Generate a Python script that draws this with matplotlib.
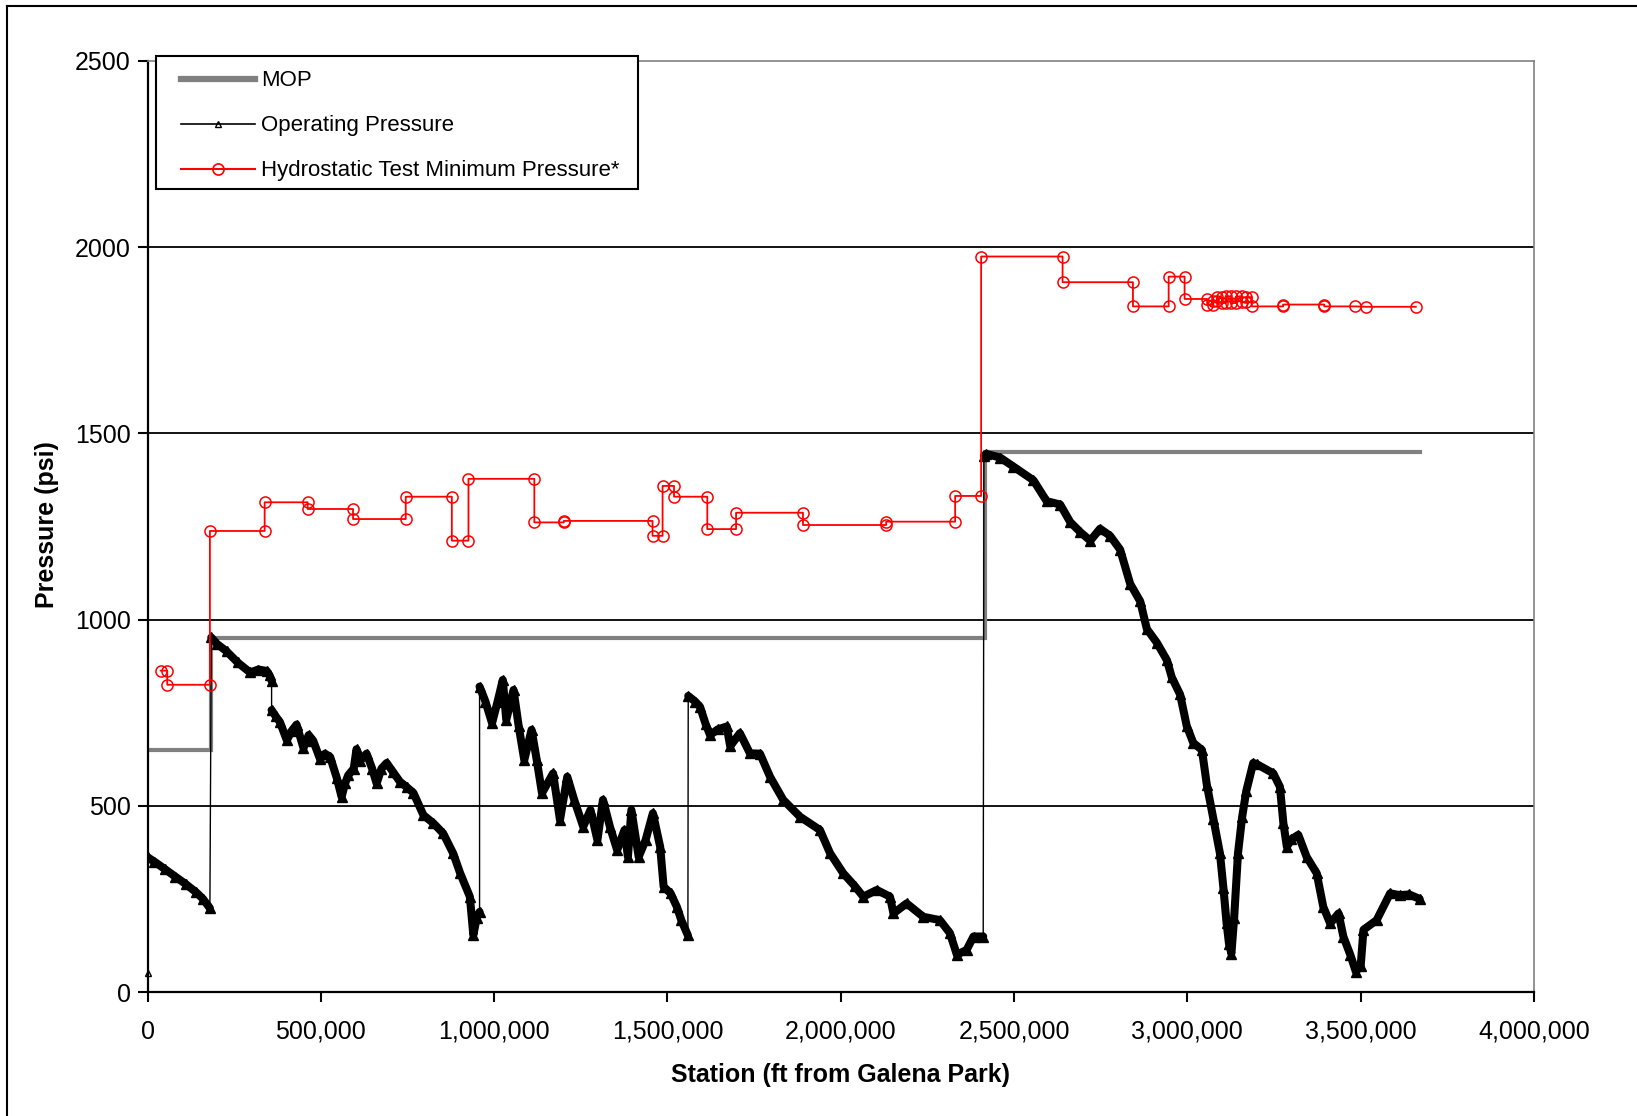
import matplotlib
matplotlib.use("Agg")
import matplotlib.pyplot as plt
from matplotlib.lines import Line2D
from matplotlib.patches import Rectangle
from matplotlib.ticker import FuncFormatter

plt.rcParams['font.family'] = ['Liberation Sans', 'DejaVu Sans']

# ---------------- data ----------------
x_ticks = [0, 500000, 1000000, 1500000, 2000000, 2500000, 3000000, 3500000, 4000000]
y_ticks = [0, 500, 1000, 1500, 2000, 2500]

mop_x = [0, 183000, 183000, 2416000, 2416000, 3670000]
mop_y = [650, 650, 950, 950, 1450, 1450]

op_start_x = [0]
op_start_y = [50]

op_a_x = [0, 20000, 50000, 80000, 110000, 140000, 160000, 180000]
op_a_y = [362, 350, 330, 310, 290, 268, 250, 225]

op_b_x = [184000, 200000, 228000, 260000, 296000, 320000, 344000, 352000, 358000]
op_b_y = [952, 935, 915, 885, 858, 866, 862, 850, 836]

op_c_x = [358000, 370000, 382000, 402000, 415000, 430000, 450000, 465000, 478000,
          498000, 512000, 527000, 546000, 560000, 570000, 579000, 595000, 603000,
          613000, 632000, 648000, 661000, 675000, 690000, 709000, 728000, 748000,
          767000, 796000, 825000, 853000, 882000, 902000, 930000, 940000, 950000, 958000]
op_c_y = [757, 740, 725, 676, 700, 718, 655, 690, 675,
          625, 640, 631, 575, 524, 560, 582, 600, 652,
          620, 640, 600, 560, 600, 615, 590, 565, 550,
          535, 475, 453, 426, 372, 319, 256, 153, 200, 215]

op_d_x = [958000, 975000, 994000, 1010000, 1025000, 1035000, 1056000, 1071000, 1087000,
          1108000, 1123000, 1138000, 1170000, 1190000, 1211000, 1231000, 1257000, 1278000,
          1298000, 1314000, 1334000, 1355000, 1376000, 1386000, 1396000, 1417000, 1437000,
          1458000, 1479000, 1489000, 1509000, 1527000, 1540000, 1559000]
op_d_y = [820, 780, 722, 780, 838, 731, 811, 713, 623,
          704, 623, 534, 587, 462, 578, 516, 444, 489,
          408, 516, 444, 381, 435, 363, 489, 363, 408,
          480, 390, 283, 265, 229, 193, 152]

op_e_x = [1560000, 1580000, 1594000, 1610000, 1623000, 1645000, 1671000, 1681000, 1709000,
          1738000, 1767000, 1796000, 1834000, 1882000, 1940000, 1969000, 2007000, 2040000,
          2065000, 2104000, 2142000, 2152000, 2190000, 2238000, 2286000, 2315000, 2335000,
          2363000, 2383000, 2411000]
op_e_y = [795, 780, 766, 720, 690, 705, 713, 660, 695,
          641, 640, 578, 516, 471, 435, 373, 319, 285,
          256, 274, 256, 211, 238, 202, 193, 158, 100,
          113, 149, 149]

op_f_x = [2413000, 2420000, 2460000, 2498000, 2556000, 2594000, 2633000, 2662000, 2691000,
          2720000, 2748000, 2777000, 2806000, 2835000, 2864000, 2883000, 2912000, 2941000,
          2955000, 2979000, 2998000, 3017000, 3042000, 3056000, 3075000, 3094000, 3104000,
          3113000, 3120000, 3127000, 3135000, 3146000, 3158000, 3170000, 3190000, 3200000,
          3248000, 3267000, 3277000, 3287000, 3300000, 3320000, 3344000, 3373000, 3392000,
          3412000, 3436000, 3450000, 3470000, 3486000, 3500000, 3508000, 3546000, 3585000,
          3613000, 3640000, 3670000]
op_f_y = [1440, 1445, 1435, 1411, 1374, 1318, 1309, 1262, 1235,
          1212, 1244, 1225, 1188, 1096, 1049, 975, 938, 891,
          845, 799, 715, 669, 650, 557, 465, 372, 279,
          186, 130, 103, 200, 372, 470, 540, 615, 612,
          587, 551, 453, 390, 410, 422, 363, 319, 229,
          184, 211, 149, 100, 55, 70, 167, 193, 265,
          260, 262, 250]

hyd_x = [38000, 57000, 57000, 180000, 180000, 338000, 338000, 462000, 462000, 593000,
         593000, 745000, 745000, 878000, 878000, 926000, 926000, 1116000, 1116000, 1201000,
         1201000, 1457000, 1457000, 1486000, 1486000, 1519000, 1519000, 1615000, 1615000, 1698000,
         1698000, 1891000, 1891000, 2131000, 2131000, 2330000, 2330000, 2405000, 2405000, 2640000,
         2640000, 2843000, 2843000, 2946000, 2946000, 2992000, 2992000, 3057000, 3057000, 3075000,
         3075000, 3085000, 3085000, 3100000, 3100000, 3110000, 3110000, 3125000, 3125000, 3140000,
         3140000, 3158000, 3158000, 3170000, 3170000, 3186000, 3186000, 3276000, 3276000, 3395000,
         3395000, 3485000, 3515000, 3659000]
hyd_y = [863, 863, 825, 825, 1238, 1238, 1315, 1315, 1297, 1297,
         1270, 1270, 1330, 1330, 1212, 1212, 1378, 1378, 1261, 1261,
         1265, 1265, 1225, 1225, 1359, 1359, 1330, 1330, 1243, 1243,
         1287, 1287, 1254, 1254, 1263, 1263, 1332, 1332, 1975, 1975,
         1906, 1906, 1841, 1841, 1921, 1921, 1861, 1861, 1845, 1845,
         1855, 1855, 1865, 1865, 1850, 1850, 1868, 1868, 1850, 1850,
         1868, 1868, 1852, 1852, 1866, 1866, 1841, 1841, 1846, 1846,
         1841, 1841, 1840, 1840]

labels = ["MOP", "Operating Pressure", "Hydrostatic Test Minimum Pressure*"]

# ---------------- figure ----------------
W, H = 1637, 1116
fig = plt.figure(figsize=(W / 100, H / 100), dpi=100)
L, R, B, T = 147.5, 1534, 992, 61
ax = fig.add_axes([L / W, 1 - B / H, (R - L) / W, (B - T) / H])

# outer chart border (top and left visible)
fig.add_artist(Line2D([7 / W, 7 / W], [0, 1 - 6 / H], transform=fig.transFigure,
                      color='black', lw=1.5))
fig.add_artist(Line2D([7 / W, 1], [1 - 6 / H, 1 - 6 / H], transform=fig.transFigure,
                      color='black', lw=1.5))

for yv in y_ticks[1:-1]:
    ax.axhline(yv, color='black', lw=1.3, zorder=1)

ax.plot(mop_x, mop_y, color='#808080', lw=3.0, zorder=2, solid_joinstyle='miter')

segs = [(op_a_x, op_a_y), (op_b_x, op_b_y), (op_c_x, op_c_y), (op_d_x, op_d_y),
        (op_e_x, op_e_y), (op_f_x, op_f_y)]
all_x = list(op_start_x)
all_y = list(op_start_y)
for sx, sy in segs:
    all_x += sx
    all_y += sy
ax.plot(all_x, all_y, color='black', lw=1.0, zorder=3)
for sx, sy in segs:
    ax.plot(sx, sy, color='black', lw=5.8, zorder=3, solid_joinstyle='round',
            solid_capstyle='round', marker='^', ms=7, mfc='black', mec='black')
ax.plot(op_start_x, op_start_y, linestyle='none', marker='^', ms=5, mfc='none',
        mec='black', mew=1.0, zorder=3, clip_on=False)

ax.plot(hyd_x, hyd_y, color='red', lw=1.3, marker='o', ms=8, mfc='none',
        mec='red', mew=1.1, zorder=4)

ax.set_xlim(0, 4000000)
ax.set_ylim(0, 2500)
ax.set_xticks(x_ticks)
ax.set_yticks(y_ticks)
ax.xaxis.set_major_formatter(FuncFormatter(lambda v, p: f"{int(v):,}"))
ax.tick_params(axis='both', labelsize=18, color='black', width=1.5, length=7, direction='out')
ax.tick_params(axis='x', pad=13)
ax.tick_params(axis='y', pad=5)

for s in ['left', 'bottom']:
    ax.spines[s].set_color('black')
    ax.spines[s].set_linewidth(1.6)
for s in ['top', 'right']:
    ax.spines[s].set_color('#808080')
    ax.spines[s].set_linewidth(1.2)

fig.text(47 / W, 1 - 525 / H, "Pressure (psi)", rotation=90, ha='center', va='center',
         fontsize=18, fontweight='bold')
fig.text((L + R) / 2 / W, 1 - 1075 / H, "Station (ft from Galena Park)", ha='center',
         va='center', fontsize=18, fontweight='bold')

# legend
lx0, lx1, ly0, ly1 = 156, 638, 56, 189
fig.add_artist(Rectangle((lx0 / W, 1 - ly1 / H), (lx1 - lx0) / W, (ly1 - ly0) / H,
                         transform=fig.transFigure, facecolor='white', edgecolor='black',
                         lw=1.5, zorder=5))
handles = [Line2D([], [], color='#808080', lw=4.5),
           Line2D([], [], color='black', lw=1.2, marker='^', ms=5, mfc='none', mec='black'),
           Line2D([], [], color='red', lw=1.5, marker='o', ms=8, mfc='none', mec='red', mew=1.2)]
leg = fig.legend(handles, labels, loc='upper left', bbox_to_anchor=(177 / W, 1 - 66 / H),
                 frameon=False, fontsize=16, handlelength=3.3, handletextpad=0.3,
                 labelspacing=1.08, borderpad=0.2, borderaxespad=0)
leg.set_zorder(6)

fig.savefig("out.png", dpi=100)
